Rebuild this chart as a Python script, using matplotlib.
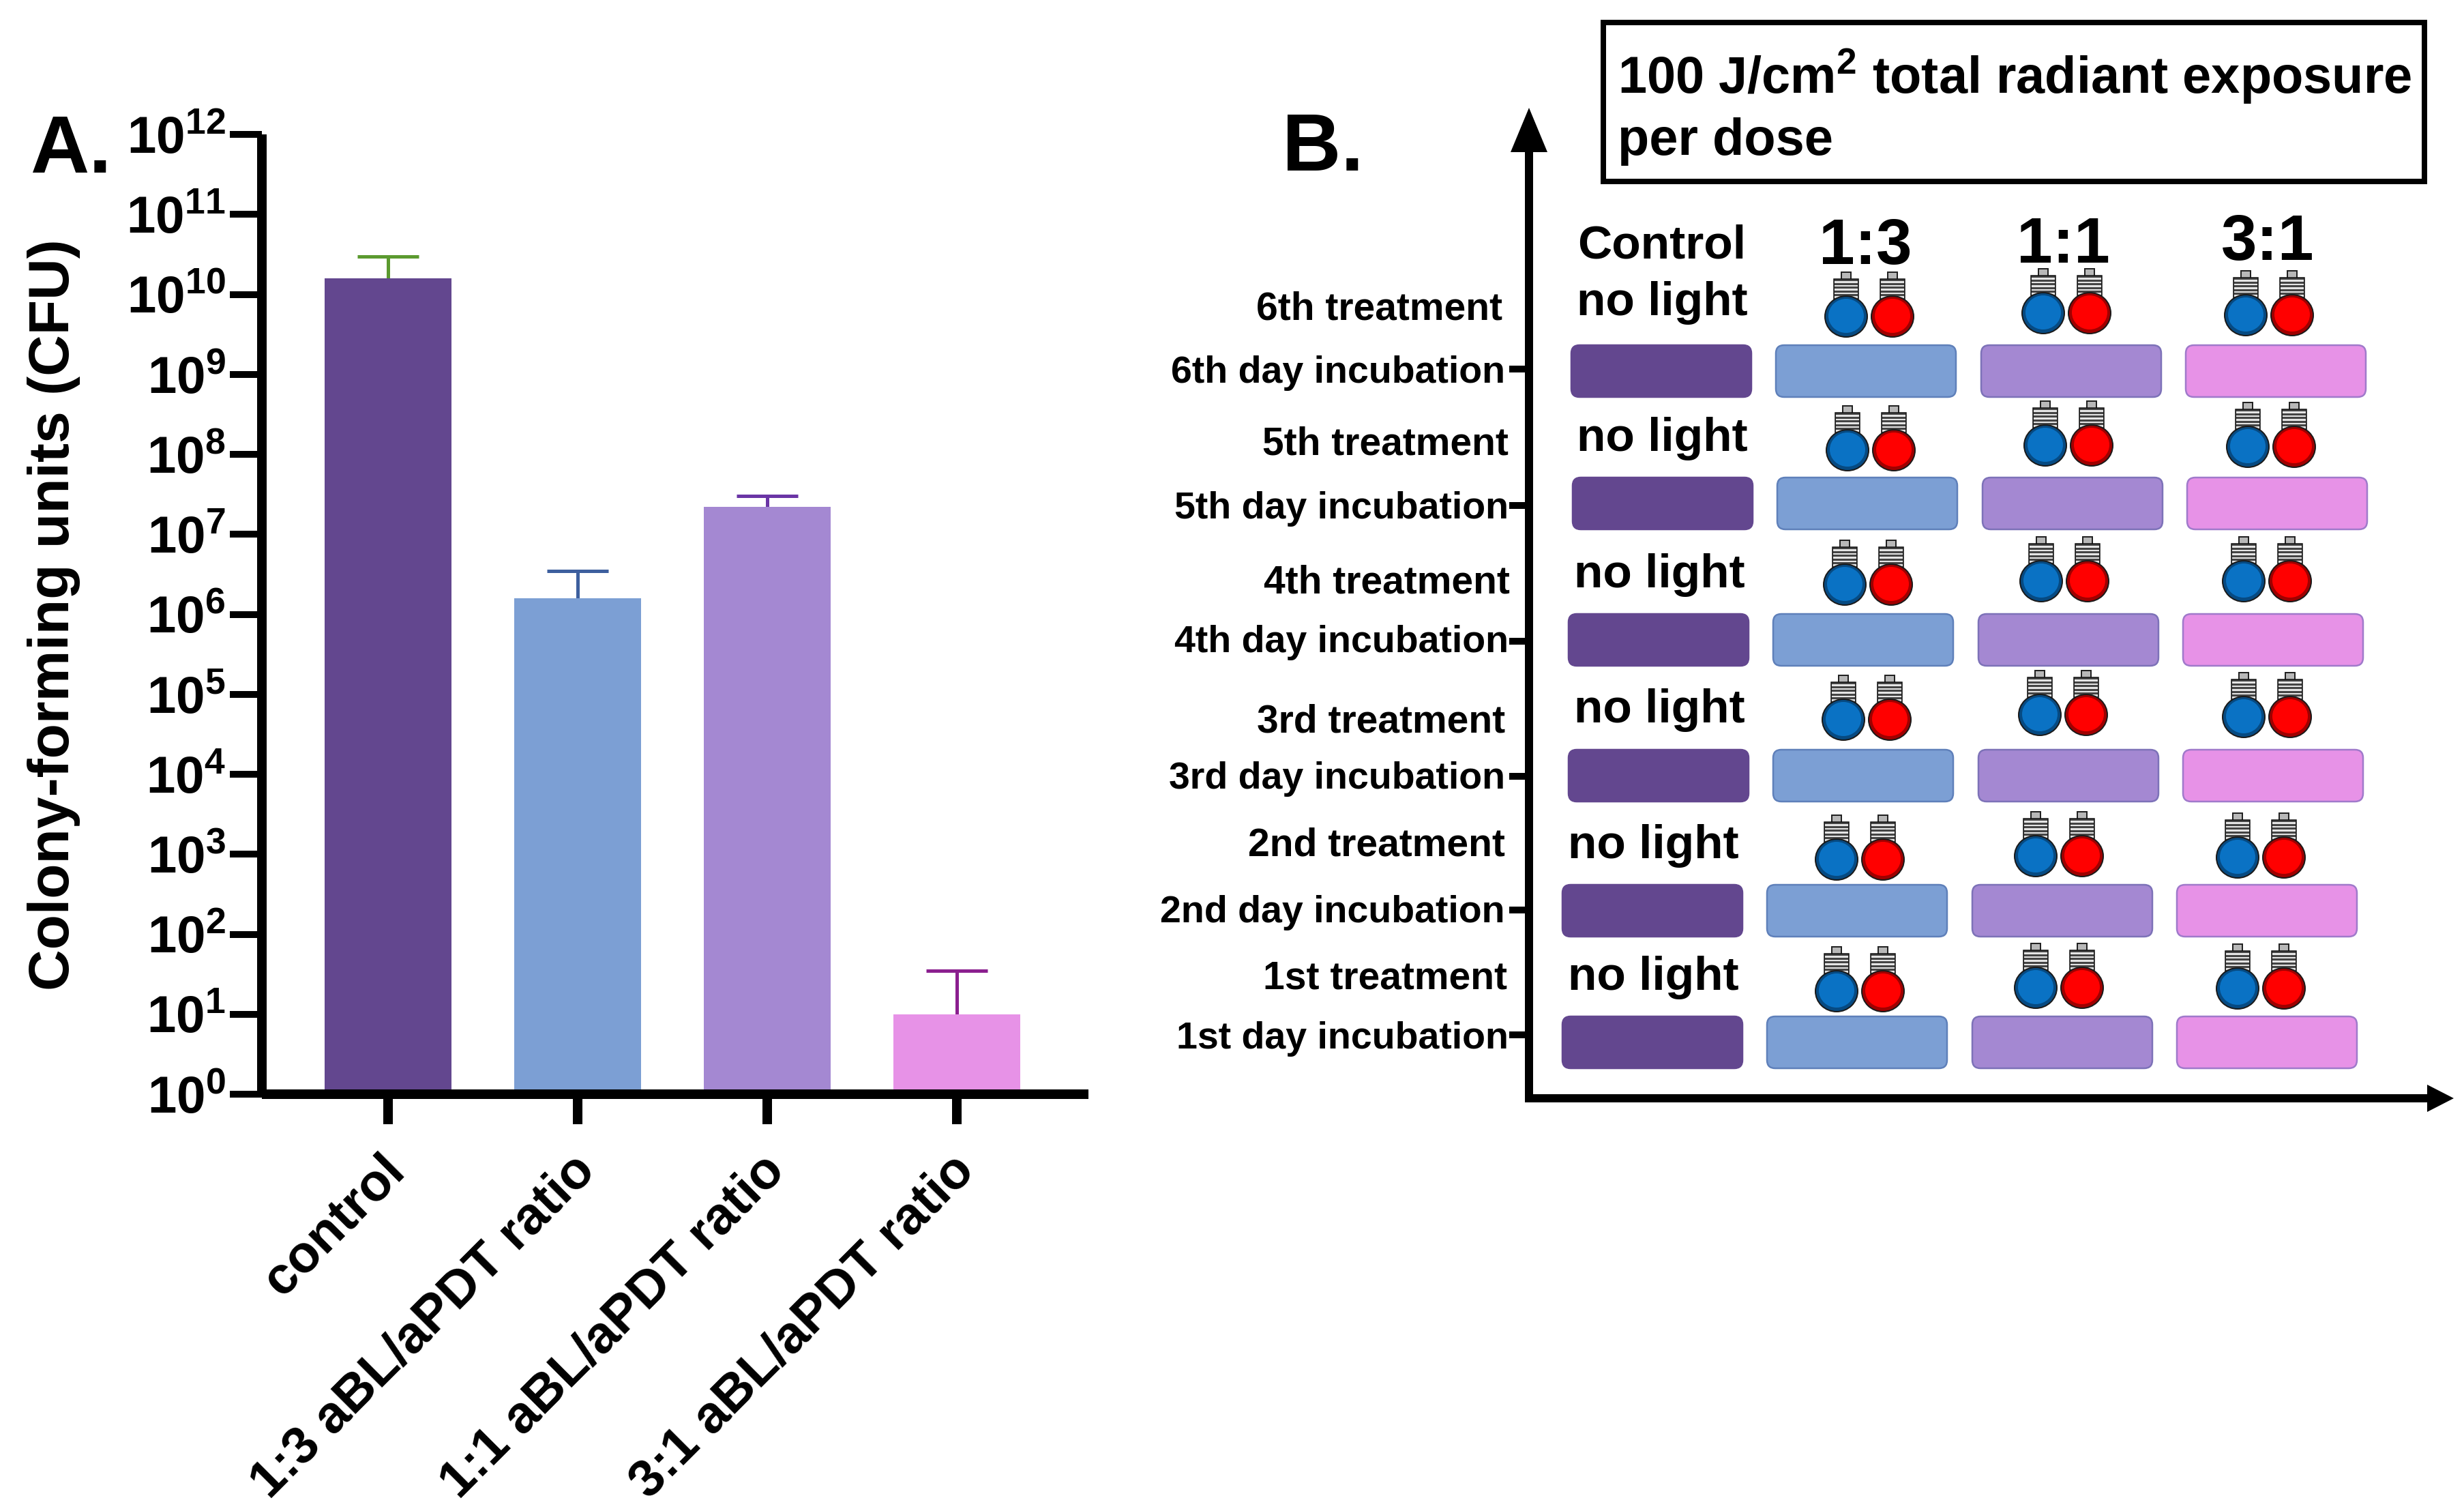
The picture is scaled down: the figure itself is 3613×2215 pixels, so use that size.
import math
import matplotlib
matplotlib.use("Agg")
import matplotlib.pyplot as plt
from matplotlib.patches import Ellipse, FancyBboxPatch, Polygon, Rectangle
from matplotlib.ticker import FixedLocator, FuncFormatter
from matplotlib.transforms import ScaledTranslation

plt.rcParams["font.family"] = ["Liberation Sans", "DejaVu Sans"]
plt.rcParams["font.weight"] = "bold"
plt.rcParams["mathtext.fontset"] = "custom"
plt.rcParams["mathtext.bf"] = "Liberation Sans:bold"
plt.rcParams["mathtext.rm"] = "Liberation Sans:bold"

# ---------- data ----------
categories = ["control", "1:3 aBL/aPDT ratio", "1:1 aBL/aPDT ratio", "3:1 aBL/aPDT ratio"]
cfu_mean = [1.6e10, 1.6e6, 2.2e7, 10]
cfu_top = [3.0e10, 3.5e6, 3.0e7, 35]
bar_colors = ["#63478F", "#7C9FD4", "#A488D2", "#E792E7"]
err_colors = ["#5B9A2F", "#3D5F9E", "#6A35A5", "#8B1F8F"]
edge_colors = ["#63478F", "#5F80BA", "#7D72B8", "#A07ACB"]
decades = list(range(13))

column_heads = ["1:3", "1:1", "3:1"]
treat_labels = ["6th treatment", "5th treatment", "4th treatment",
                "3rd treatment", "2nd treatment", "1st treatment"]
day_labels = ["6th day incubation", "5th day incubation", "4th day incubation",
              "3rd day incubation", "2nd day incubation", "1st day incubation"]

# ---------- layout (pixels of the 3613x2215 canvas) ----------
W, H, DPI = 3613, 2215, 100
PX = 72 / DPI
fig = plt.figure(figsize=(W / DPI, H / DPI), dpi=DPI, facecolor="white")

# Panel A
L, R, T, B = 384, 1596, 197, 1604
ax = fig.add_axes([L / W, 1 - B / H, (R - L) / W, (B - T) / H])
ax.set_facecolor("none")
ax.set_yscale("log")
ax.set_ylim(1, 1e12)
ax.set_xlim(-0.665, 3.694)
xpos = list(range(len(categories)))
ax.bar(xpos, cfu_mean, width=0.67, color=bar_colors, zorder=2)
for x, m, t, c in zip(xpos, cfu_mean, cfu_top, err_colors):
    eb = ax.errorbar([x], [m], yerr=[[0], [t - m]], color=c, elinewidth=5 * PX,
                     capsize=45 * PX, capthick=5 * PX, zorder=1)
    eb[1][0].set_visible(False)
for s in ("top", "right"):
    ax.spines[s].set_visible(False)
for s in ("left", "bottom"):
    ax.spines[s].set_linewidth(14 * PX)
    ax.spines[s].set_capstyle("butt")
ax.yaxis.set_major_locator(FixedLocator([10.0 ** d for d in decades]))
ax.yaxis.set_minor_locator(FixedLocator([]))
ax.yaxis.set_major_formatter(FuncFormatter(lambda v, _: r"$\mathbf{10^{%d}}$" % round(math.log10(v))))
ax.tick_params(axis="y", which="major", length=47 * PX, width=10 * PX, pad=6 * PX, labelsize=55)
ax.tick_params(axis="x", which="major", length=44 * PX, width=14 * PX, pad=32 * PX)
ax.set_xticks(xpos)
ax.set_xticklabels(categories, rotation=45, ha="right", rotation_mode="anchor", fontsize=55, fontweight="bold")
ax.set_ylabel("Colony-forming units (CFU)", fontsize=60.5, fontweight="bold")
ax.yaxis.set_label_coords((118 - L) / (R - L), (B - 901) / (B - T))
shift = ScaledTranslation(-11 / DPI, 0, fig.dpi_scale_trans)
for lab in ax.get_xticklabels():
    lab.set_transform(lab.get_transform() + shift)

# Overlay in canvas pixels for panel letters and the schematic
ov = fig.add_axes([0, 0, 1, 1])
ov.set_xlim(0, W)
ov.set_ylim(H, 0)
ov.axis("off")
ov.patch.set_alpha(0)

ov.text(44, 253, "A.", fontsize=86, fontweight="bold", ha="left", va="baseline")
ov.text(1880, 250, "B.", fontsize=86, fontweight="bold", ha="left", va="baseline")

# Schematic axes
ov.add_patch(Rectangle((2236, 200), 12, 1416, color="black", lw=0))
ov.add_patch(Rectangle((2236, 1604), 1330, 12, color="black", lw=0))
ov.add_patch(Polygon([[2242, 158], [2215, 223], [2269, 223]], closed=True, color="black", lw=0))
ov.add_patch(Polygon([[3598, 1610], [3559, 1590], [3559, 1630]], closed=True, color="black", lw=0))

# Title box
ov.add_patch(Rectangle((2351, 33), 1204, 233, fill=False, ec="black", lw=8 * PX))
ov.text(2372, 137, r"100 J/cm$\mathbf{^2}$ total radiant exposure", fontsize=54.5, ha="left", va="baseline")
ov.text(2372, 227, "per dose", fontsize=54.5, ha="left", va="baseline")

# Row layout: box top, box x of each column, label centres etc.
box_tops = [506, 700, 900, 1099, 1297, 1490]
box_x = [[2304, 2604, 2905, 3205], [2306, 2606, 2907, 3207], [2300, 2600, 2901, 3201],
         [2300, 2600, 2901, 3201], [2291, 2591, 2892, 3192], [2291, 2591, 2892, 3192]]
tick_y = [541, 741, 940, 1138, 1334, 1517]
treat_pos = [(2203, 453), (2212, 651), (2214, 854), (2207, 1058), (2207, 1239), (2210, 1434)]
day_pos = [(2207, 547), (2212, 746), (2212, 942), (2207, 1142), (2207, 1338), (2212, 1523)]
nolight_pos = [(2437, 444), (2437, 643), (2433, 843), (2433, 1041), (2424, 1240), (2424, 1433)]
bulb_blue = [[(2707, 464), (2996, 459), (3293, 462)], [(2709, 660), (2999, 653), (3296, 655)],
             [(2705, 857), (2993, 852), (3290, 852)], [(2703, 1055), (2991, 1048), (3290, 1051)],
             [(2693, 1260), (2985, 1255), (3281, 1257)], [(2693, 1453), (2985, 1448), (3281, 1449)]]


def bulb(cx, cy, color, dark):
    """Small light bulb: glass globe with a threaded grey cap."""
    ov.add_patch(Rectangle((cx - 7, cy - 65), 14, 12, fc="#B8B8B8", ec="#222222", lw=2 * PX, zorder=4))
    ov.add_patch(Rectangle((cx - 18, cy - 55), 36, 30, fc="#444444", ec="#111111", lw=1.5 * PX, zorder=4))
    for k in range(5):
        ov.add_patch(Rectangle((cx - 17, cy - 52 + 5.5 * k), 34, 2.6, fc="#E4E4E4", lw=0, zorder=5))
    ov.add_patch(Ellipse((cx, cy), 62, 60, fc=dark, ec="#1A1A1A", lw=2 * PX, zorder=6))
    ov.add_patch(Ellipse((cx, cy - 1), 52, 50, fc=color, lw=0, zorder=7))


for r in range(6):
    for c in range(4):
        ov.add_patch(FancyBboxPatch((box_x[r][c] + 12, box_tops[r] + 12), 264 - 24, 76 - 24,
                                    boxstyle="round,pad=12,rounding_size=12",
                                    fc=bar_colors[c], ec=edge_colors[c], lw=2.5 * PX, zorder=3))
    ov.add_patch(Rectangle((2213, tick_y[r] - 5), 26, 10, color="black", lw=0))
    ov.text(*treat_pos[r], treat_labels[r], fontsize=41, ha="right", va="center")
    ov.text(*day_pos[r], day_labels[r], fontsize=40, ha="right", va="center")
    ov.text(*nolight_pos[r], "no light", fontsize=50, ha="center", va="center")
    for c in range(3):
        bx, by = bulb_blue[r][c]
        bulb(bx, by, "#0A72C4", "#064A82")
        bulb(bx + 68, by, "#FF0000", "#A00000")

ov.text(2437, 360, "Control", fontsize=50, ha="center", va="center")
for head, hx, hy in zip(column_heads, [2735, 3025, 3325], [362, 360, 356]):
    ov.text(hx, hy, head, fontsize=68, ha="center", va="center")

fig.savefig("out.png", dpi=DPI, facecolor="white")
